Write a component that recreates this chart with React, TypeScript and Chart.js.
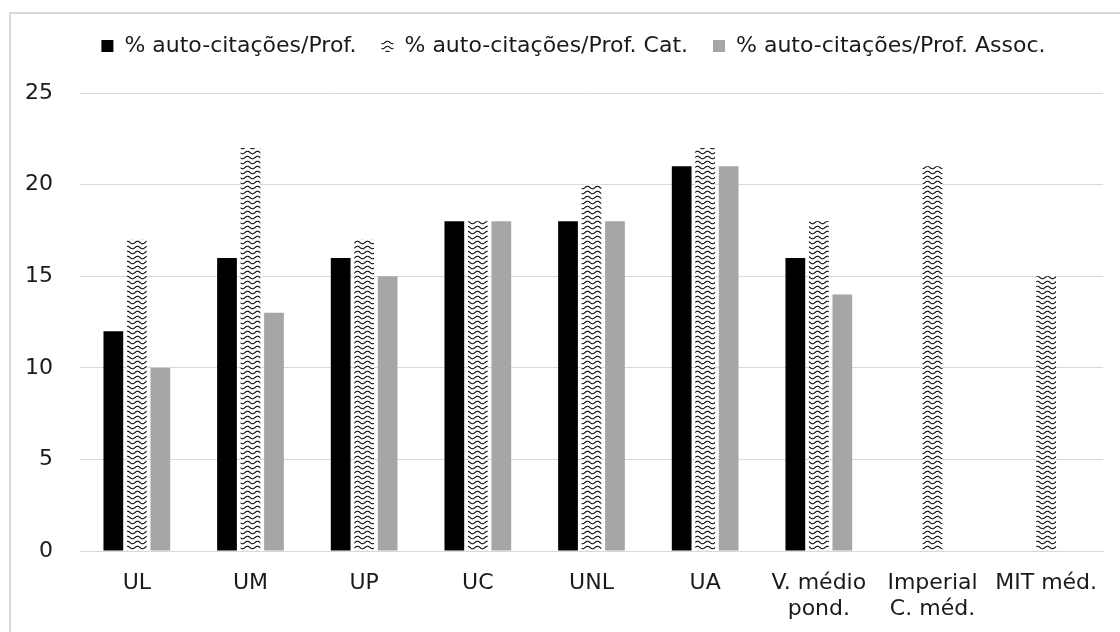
import React, { useEffect, useRef } from "react";
import { Chart, registerables } from "chart.js";

Chart.register(...registerables);

const categories: (string | string[])[] = [
  "UL",
  "UM",
  "UP",
  "UC",
  "UNL",
  "UA",
  ["V. médio", "pond."],
  ["Imperial", "C. méd."],
  "MIT méd.",
];

const seriesNames = [
  "% auto-citações/Prof.",
  "% auto-citações/Prof. Cat.",
  "% auto-citações/Prof. Assoc.",
];

const profValues = [12, 16, 16, 18, 18, 21, 16, null, null];
const catValues = [17, 22, 17, 18, 20, 22, 18, 21, 15];
const assocValues = [10, 13, 15, 18, 18, 21, 14, null, null];

const yTicks = { min: 0, max: 25, step: 5 };

const FONT = "'DejaVu Sans', 'Open Sans', sans-serif";
const TEXT = "#1a1a1a";
const GRID = "#d9d9d9";
const LEGEND_GAP = 26;
const LEGEND_SHIFT = 22;

// Wavy black-on-white fill used for the "Prof. Cat." bars
function makeWavePattern(): CanvasPattern | string {
  const tile = document.createElement("canvas");
  const w = 10;
  const h = 5;
  tile.width = w;
  tile.height = h;
  const ctx = tile.getContext("2d");
  if (!ctx) return "#777";
  ctx.fillStyle = "#ffffff";
  ctx.fillRect(0, 0, w, h);
  ctx.strokeStyle = "#000000";
  ctx.lineWidth = 1.1;
  ctx.beginPath();
  for (let x = -1; x <= w + 1; x += 0.5) {
    const y = h / 2 + 1.3 * Math.sin((x / w) * Math.PI * 2);
    if (x === -1) ctx.moveTo(x, y);
    else ctx.lineTo(x, y);
  }
  ctx.stroke();
  const pat = ctx.createPattern(tile, "repeat");
  return pat || "#777";
}

// Extra space under the legend row, and a small rightward offset of the row
const legendTweak = {
  id: "legendTweak",
  beforeLayout(chart: any) {
    const lg = chart.legend;
    if (lg && !lg._gapPatched) {
      const orig = lg.fit;
      lg.fit = function () {
        orig.call(this);
        this.height += LEGEND_GAP;
      };
      lg._gapPatched = true;
    }
  },
  afterLayout(chart: any) {
    const lg = chart.legend;
    if (lg) {
      lg.left += LEGEND_SHIFT;
      lg.right += LEGEND_SHIFT;
    }
  },
};

export default function App() {
  const canvasRef = useRef<HTMLCanvasElement | null>(null);

  useEffect(() => {
    document.body.style.margin = "0";
    const canvas = canvasRef.current;
    if (!canvas) return;
    const wave = makeWavePattern();

    const chart = new Chart(canvas, {
      type: "bar",
      data: {
        labels: categories,
        datasets: [
          {
            label: seriesNames[0],
            data: profValues,
            backgroundColor: "#000000",
            borderWidth: 0,
          },
          {
            label: seriesNames[1],
            data: catValues,
            backgroundColor: wave as any,
            borderWidth: 0,
          },
          {
            label: seriesNames[2],
            data: assocValues,
            backgroundColor: "#a6a6a6",
            borderWidth: 0,
          },
        ],
      },
      plugins: [legendTweak],
      options: {
        animation: false,
        responsive: false,
        maintainAspectRatio: false,
        layout: { padding: { top: 10, right: 17, bottom: 0, left: 0 } },
        datasets: {
          bar: { categoryPercentage: 0.62, barPercentage: 0.84 },
        },
        plugins: {
          legend: {
            position: "top",
            labels: {
              boxWidth: 12,
              boxHeight: 12,
              padding: 25,
              color: TEXT,
              font: { family: FONT, size: 22 },
            },
          },
          tooltip: { enabled: false },
        },
        scales: {
          x: {
            grid: { display: false, drawTicks: false },
            border: { display: true, color: GRID, width: 1 },
            ticks: {
              color: TEXT,
              padding: 19,
              maxRotation: 0,
              autoSkip: false,
              font: { family: FONT, size: 22, lineHeight: 1.2 },
            },
            afterFit: (scale: any) => {
              scale.height = 81;
            },
          },
          y: {
            min: yTicks.min,
            max: yTicks.max,
            grid: { color: GRID, drawTicks: false, lineWidth: 1 },
            border: { display: false },
            ticks: {
              stepSize: yTicks.step,
              color: TEXT,
              padding: 27,
              font: { family: FONT, size: 22 },
            },
            afterFit: (scale: any) => {
              scale.width = 80;
            },
          },
        },
      },
    });

    return () => chart.destroy();
  }, []);

  return (
    <div style={{ position: "relative", width: 1120, height: 632, overflow: "hidden", background: "#fff" }}>
      <div
        style={{
          position: "absolute",
          left: 9,
          top: 12,
          width: 1130,
          height: 640,
          borderLeft: `2px solid ${GRID}`,
          borderTop: `2px solid ${GRID}`,
          boxSizing: "border-box",
        }}
      />
      <canvas
        ref={canvasRef}
        width={1120}
        height={632}
        style={{ position: "absolute", left: 0, top: 0, width: 1120, height: 632 }}
      />
    </div>
  );
}
